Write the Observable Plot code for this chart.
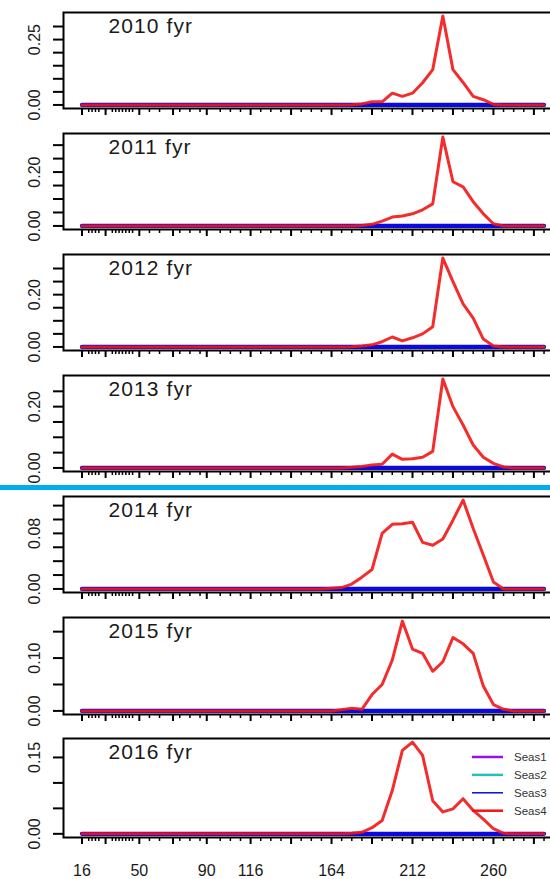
<!DOCTYPE html>
<html><head><meta charset="utf-8">
<script src="https://cdn.jsdelivr.net/npm/d3@7"></script>
<script src="https://cdn.jsdelivr.net/npm/@observablehq/plot@0.6"></script>
<style>
html,body{margin:0;padding:0;background:#fff;overflow:hidden;}
#wrap{position:relative;width:550px;height:879px;overflow:hidden;font-family:"Liberation Sans",Arial,sans-serif;}
#wrap svg{display:block;overflow:hidden;}
#sep{position:absolute;left:0;top:485px;width:550px;height:5px;background:#00aeef;}
</style></head>
<body><div id="wrap"></div>
<script>
// ---- data ----
const years = [2010, 2011, 2012, 2013, 2014, 2015, 2016];
const lengthBins = [16,18,20,22,24,26,28,30,32,34,36,38,40,42,44,46,48,50,
  56,62,68,74,80,86,92,98,104,110,116,122,128,134,140,146,152,158,
  164,170,176,182,188,194,200,206,212,218,224,230,236,242,248,254,260,266,272,278,284,290];
const xLabelValues = [16, 50, 90, 116, 164, 212, 260];
const xLongTicks = [16, 30, 50, 70, 90, 116, 140, 164, 188, 212, 236, 260, 284];
const seasonNames = ["Seas1", "Seas2", "Seas3", "Seas4"];
const seasonColors = ["#9a10e0", "#22c2b8", "#0a0ae0", "#f21515"];

// Seas1-Seas3 are zero in every year
const zeroSeries = [0,0,0,0,0,0,0,0,0,0,0,0,0,0,0,0,0,0,
  0,0,0,0,0,0,0,0,0,0,0,0,0,0,0,0,0,0,
  0,0,0,0,0,0,0,0,0,0,0,0,0,0,0,0,0,0,0,0,0,0];
// Seas4 per year (same order as lengthBins)
const seas4_2010 = [0,0,0,0,0,0,0,0,0,0,0,0,0,0,0,0,0,0,
  0,0,0,0,0,0,0,0,0,0,0,0,0,0,0,0,0,0,
  0,0,0.001,0.004,0.012,0.012,0.045,0.033,0.045,0.085,0.135,0.34,0.135,0.086,0.033,0.02,0.002,0,0,0,0,0];
const seas4_2011 = [0,0,0,0,0,0,0,0,0,0,0,0,0,0,0,0,0,0,
  0,0,0,0,0,0,0,0,0,0,0,0,0,0,0,0,0,0,
  0,0,0,0.002,0.006,0.018,0.033,0.037,0.045,0.06,0.082,0.33,0.164,0.145,0.09,0.045,0.008,0,0,0,0,0];
const seas4_2012 = [0,0,0,0,0,0,0,0,0,0,0,0,0,0,0,0,0,0,
  0,0,0,0,0,0,0,0,0,0,0,0,0,0,0,0,0,0,
  0,0,0.001,0.004,0.008,0.02,0.038,0.023,0.035,0.05,0.077,0.34,0.25,0.165,0.11,0.03,0.004,0,0,0,0,0];
const seas4_2013 = [0,0,0,0,0,0,0,0,0,0,0,0,0,0,0,0,0,0,
  0,0,0,0,0,0,0,0,0,0,0,0,0,0,0,0,0,0,
  0,0,0.002,0.005,0.01,0.012,0.045,0.028,0.03,0.035,0.054,0.29,0.2,0.14,0.075,0.035,0.015,0.003,0,0,0,0];
const seas4_2014 = [0,0,0,0,0,0,0,0,0,0,0,0,0,0,0,0,0,0,
  0,0,0,0,0,0,0,0,0,0,0,0,0,0,0,0,0,0,
  0.001,0.002,0.007,0.017,0.028,0.08,0.093,0.094,0.096,0.067,0.063,0.072,0.099,0.128,0.087,0.049,0.01,0,0,0,0,0];
const seas4_2015 = [0,0,0,0,0,0,0,0,0,0,0,0,0,0,0,0,0,0,
  0,0,0,0,0,0,0,0,0,0,0,0,0,0,0,0,0,0,
  0,0.002,0.005,0.003,0.031,0.05,0.096,0.17,0.117,0.109,0.075,0.093,0.139,0.127,0.109,0.047,0.012,0.003,0,0,0,0];
const seas4_2016 = [0,0,0,0,0,0,0,0,0,0,0,0,0,0,0,0,0,0,
  0,0,0,0,0,0,0,0,0,0,0,0,0,0,0,0,0,0,
  0,0,0.001,0.003,0.012,0.026,0.085,0.164,0.18,0.154,0.065,0.043,0.049,0.069,0.046,0.029,0.01,0.001,0,0,0,0];
const seas4ByYear = [seas4_2010, seas4_2011, seas4_2012, seas4_2013, seas4_2014, seas4_2015, seas4_2016];

// y axis ticks and labelled ticks per panel
const yTicks = [
  [0, 0.05, 0.10, 0.15, 0.20, 0.25, 0.30],
  [0, 0.05, 0.10, 0.15, 0.20, 0.25, 0.30],
  [0, 0.05, 0.10, 0.15, 0.20, 0.25, 0.30],
  [0, 0.05, 0.10, 0.15, 0.20, 0.25],
  [0, 0.02, 0.04, 0.06, 0.08, 0.10, 0.12],
  [0, 0.05, 0.10, 0.15],
  [0, 0.05, 0.10, 0.15]
];
const yLabels = [[0, 0.25], [0, 0.20], [0, 0.20], [0, 0.20], [0, 0.08], [0, 0.10], [0, 0.15]];

// ---- layout ----
const panelHeights = [121, 121, 121, 121, 121, 121, 153];
const panelMarginBottom = [13, 13, 13, 13, 13, 12, 42];
const FONT = "Liberation Sans, Arial, sans-serif";
const fmt = d3.format(".2f");
const xMin = lengthBins[0], xMax = lengthBins[lengthBins.length - 1];
const xPad = 0.04 * (xMax - xMin);
const shortTicks = lengthBins.filter(b => !xLongTicks.some(t => Math.abs(t - b) < 3));

const wrap = document.getElementById("wrap");

years.forEach((year, i) => {
  const s4 = seas4ByYear[i];
  const M = d3.max(s4);
  const last = i === years.length - 1;
  const marks = [
    Plot.line(lengthBins, {x: d => d, y: (d, j) => zeroSeries[j], stroke: seasonColors[0], strokeWidth: 3.5}),
    Plot.line(lengthBins, {x: d => d, y: (d, j) => zeroSeries[j], stroke: seasonColors[1], strokeWidth: 3.5}),
    Plot.line(lengthBins, {x: d => d, y: (d, j) => zeroSeries[j], stroke: seasonColors[2], strokeWidth: 4.2}),
    Plot.line(lengthBins, {x: d => d, y: (d, j) => s4[j], stroke: seasonColors[3], strokeWidth: 3, strokeOpacity: 0.9}),
    Plot.frame({stroke: "#000", strokeWidth: 2}),
    Plot.axisY(yTicks[i], {anchor: "left", tickSize: 10, strokeWidth: 2, tickFormat: () => "", label: null}),
    Plot.text(yLabels[i], {y: d => d, text: d => fmt(d), frameAnchor: "left", rotate: -90, dx: -29,
      fontSize: 16, fontFamily: FONT, textAnchor: "middle", lineAnchor: "middle", fill: "#1a1a1a"}),
    Plot.axisX(shortTicks, {anchor: "bottom", tickSize: 4, strokeWidth: 1.5, tickFormat: () => "", label: null}),
    Plot.axisX(xLongTicks, {anchor: "bottom", tickSize: 7, strokeWidth: 2, tickFormat: () => "", label: null}),
    Plot.text([`${year} fyr`], {frameAnchor: "top-left", dx: 45, dy: 14, fontSize: 21, fontFamily: FONT,
      textAnchor: "start", lineAnchor: "middle", fill: "#1a1a1a"})
  ];
  if (last) {
    marks.push(Plot.text(xLabelValues, {x: d => d, text: d => String(d), frameAnchor: "bottom", dy: 33,
      fontSize: 16, fontFamily: FONT, lineAnchor: "middle", fill: "#1a1a1a"}));
  }
  const svg = Plot.plot({
    width: 550,
    height: panelHeights[i],
    marginLeft: 63,
    marginRight: -12,
    marginTop: 12,
    marginBottom: panelMarginBottom[i],
    style: {background: "white", fontFamily: FONT, overflow: "hidden"},
    x: {domain: [xMin - xPad, xMax + xPad], axis: null},
    y: {domain: [-0.04 * M, 1.04 * M], axis: null},
    marks
  });
  // widen the panel title a little, as in the reference
  d3.select(svg).selectAll("text").filter(function () { return /fyr$/.test(this.textContent); })
    .style("letter-spacing", "1.1px");
  if (last) {
    const g = d3.select(svg).append("g").attr("font-family", FONT).attr("font-size", 11.5)
      .attr("text-anchor", "start");
    seasonNames.forEach((name, k) => {
      const yy = 31 + k * 17.9;
      g.append("line").attr("x1", 472).attr("x2", 503).attr("y1", yy).attr("y2", yy)
        .attr("stroke", seasonColors[k]).attr("stroke-width", k === 2 ? 1.5 : 2.5);
      g.append("text").attr("x", 514).attr("y", yy).attr("dy", "0.35em").attr("fill", "#333")
        .attr("text-anchor", "start").text(name);
    });
  }
  wrap.appendChild(svg);
});
const sep = document.createElement("div");
sep.id = "sep";
wrap.appendChild(sep);
</script>
</body></html>
